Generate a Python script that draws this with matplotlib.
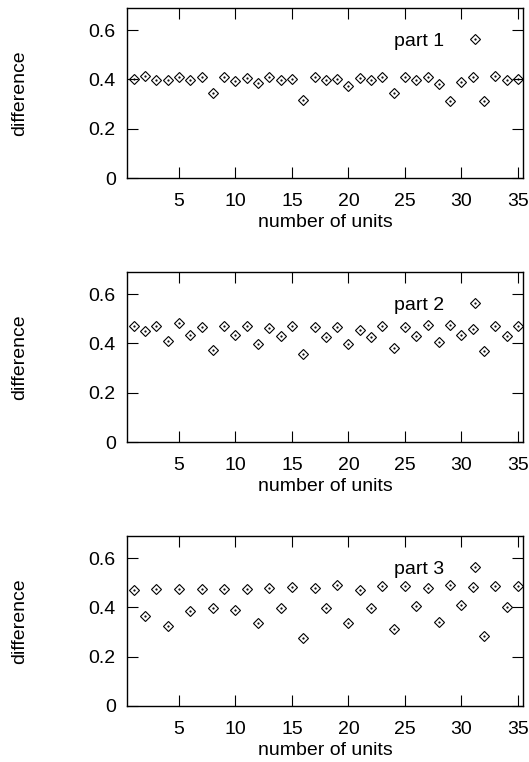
import matplotlib
matplotlib.use("Agg")
import matplotlib.pyplot as plt

# numero de unidades (eje x)
unidades = list(range(1, 36))

# valores
part1 = [0.401, 0.416, 0.397, 0.397, 0.408, 0.396, 0.408, 0.344, 0.409, 0.393,
         0.405, 0.386, 0.408, 0.397, 0.400, 0.316, 0.409, 0.396, 0.401, 0.375,
         0.407, 0.397, 0.411, 0.344, 0.411, 0.397, 0.411, 0.383, 0.313, 0.388,
         0.408, 0.313, 0.412, 0.397, 0.400]
part2 = [0.472, 0.452, 0.471, 0.409, 0.482, 0.436, 0.468, 0.374, 0.470, 0.435,
         0.471, 0.398, 0.463, 0.430, 0.470, 0.358, 0.466, 0.425, 0.468, 0.398,
         0.456, 0.426, 0.470, 0.383, 0.467, 0.430, 0.476, 0.404, 0.476, 0.435,
         0.457, 0.368, 0.471, 0.432, 0.471]
part3 = [0.472, 0.364, 0.474, 0.325, 0.474, 0.386, 0.476, 0.396, 0.476, 0.390,
         0.476, 0.336, 0.477, 0.396, 0.481, 0.276, 0.480, 0.397, 0.491, 0.336,
         0.470, 0.396, 0.485, 0.314, 0.485, 0.405, 0.478, 0.340, 0.491, 0.409,
         0.481, 0.283, 0.486, 0.402, 0.488]

series = [part1, part2, part3]
nombres = ["part 1", "part 2", "part 3"]

xticks = [5, 10, 15, 20, 25, 30, 35]
yticks = [0, 0.2, 0.4, 0.6]
ylabels = ["0", "0.2", "0.4", "0.6"]

plt.rcParams['font.family'] = ['Liberation Sans', 'DejaVu Sans']
plt.rcParams['font.size'] = 14

fig = plt.figure(figsize=(5.29, 7.62), dpi=100)

bottoms = [0.7664, 0.4199, 0.0735]

for datos, nombre, b in zip(series, nombres, bottoms):
    ax = fig.add_axes([0.240, b, 0.7486, 0.2231])
    d, = ax.plot(unidades, datos, linestyle='none', marker='D', markersize=5,
                 markerfacecolor='none', markeredgecolor='black',
                 markeredgewidth=0.8)
    p, = ax.plot(unidades, datos, linestyle='none', marker='.', markersize=1.2,
                 color='black')
    ax.set_xlim(0.4, 35.44)
    ax.set_ylim(0, 0.69)
    ax.set_xticks(xticks)
    ax.set_yticks(yticks)
    ax.set_yticklabels(ylabels)
    ax.tick_params(direction='in', length=8, width=0.8, top=True, right=True,
                   labelsize=14)
    ax.tick_params(axis='x', pad=11)
    ax.tick_params(axis='y', pad=8)
    for s in ax.spines.values():
        s.set_linewidth(1.0)
    ax.set_xlabel("number of units", labelpad=3)
    ax.set_ylabel("difference")
    ax.yaxis.set_label_coords(-0.25, 0.5)
    ax.legend([(d, p)], [nombre], loc='center right',
              bbox_to_anchor=(0.903, 0.805), markerfirst=False, frameon=False,
              handlelength=1, handletextpad=1.1, borderpad=0,
              borderaxespad=0, fontsize=14)

fig.savefig("out.png", dpi=100)
